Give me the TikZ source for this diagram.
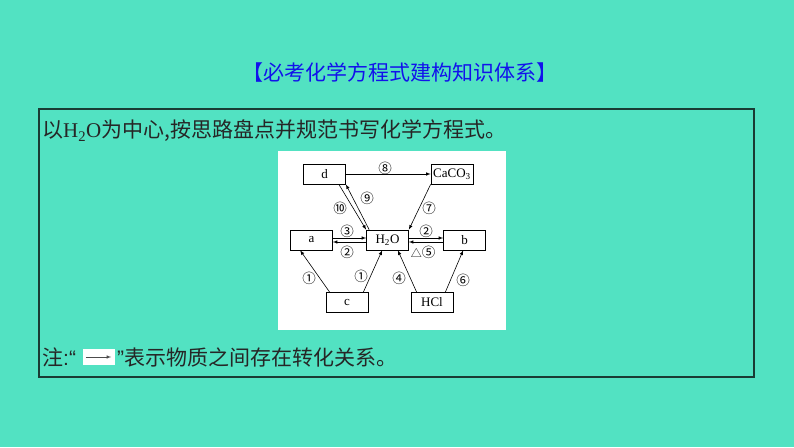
\documentclass[tikz,border=0pt]{standalone}
\usepackage{fontspec}
\setmainfont{Liberation Serif}
\newfontfamily\cjk{Noto Sans CJK SC}
\newfontfamily\latinsans{Liberation Sans}
\usetikzlibrary{arrows}
\definecolor{bgc}{RGB}{82,226,194}
\definecolor{framec}{RGB}{25,60,52}
\definecolor{titlec}{RGB}{18,18,235}
\tikzstyle{sbox} = [rectangle, minimum width=42pt, minimum height=20pt, inner sep=0pt, draw=black, line width=0.7pt, font=\fontsize{13}{13}\selectfont]
\tikzstyle{num} = [inner sep=0pt, font=\cjk\fontsize{13.5}{13.5}\selectfont]
\tikzstyle{cjktext} = [inner sep=0pt, anchor=west, text=black!85, font=\cjk\fontsize{21}{21}\selectfont]
\tikzstyle{conv} = [->, >=latex, line width=0.6pt]

\begin{document}
\begin{tikzpicture}[x=1pt, y=-1pt]
    \fill[bgc] (0,0) rectangle (794,447);
    \useasboundingbox (0,0) rectangle (794,447);
    \draw[framec, line width=1.2pt] (39,109) rectangle (754,377);
    \fill[white] (278,151) rectangle (506,330);

    \node at (400,72) [inner sep=0pt, text=titlec, font=\cjk\fontsize{21}{21}\selectfont] (title) {【必考化学方程式建构知识体系】};
    \node at (42,131) [cjktext] (line1) {以{\rmfamily H\textsubscript{2}O}为中心,按思路盘点并规范书写化学方程式。};

    % note line
    \node at (42,357) [cjktext] (note1) {注{\latinsans :“}};
    \node at (99,357) [rectangle, fill=white, minimum width=32pt, minimum height=16pt, inner sep=0pt] (legend) {};
    \node at (117,357) [cjktext] (note2) {{\latinsans ”}表示物质之间存在转化关系。};
    \draw[conv, black!70] ([xshift=3pt]legend.west) -- ([xshift=-4pt]legend.east);

    % substances
    \node at (324.5,174) [sbox] (boxd) {d};
    \node at (452,174) [sbox] (boxcaco) {CaCO\textsubscript{3}};
    \node at (311.5,240) [sbox] (boxa) {a};
    \node at (387.5,240) [sbox] (water) {H\textsubscript{2}O};
    \node at (464.5,240) [sbox] (boxb) {b};
    \node at (347,302.5) [sbox] (boxc) {c};
    \node at (432,302.5) [sbox] (hcl) {HCl};

    % conversions
    \draw[conv] (boxd) -- (boxcaco);
    \draw[conv] ([xshift=-7pt]boxd.south east) -- (water.north west);
    \draw[conv] ([xshift=3pt]water.north west) -- (boxd.south east);
    \draw[conv] (boxcaco.south west) -- (water.north east);
    \draw[conv] ([yshift=2pt]boxa.east) -- ([yshift=2pt]water.west);
    \draw[conv] ([yshift=-2pt]water.west) -- ([yshift=-2pt]boxa.east);
    \draw[conv] ([yshift=2pt]water.east) -- ([yshift=2pt]boxb.west);
    \draw[conv] ([yshift=-2pt]boxb.west) -- ([yshift=-2pt]water.east);
    \draw[conv] ([xshift=4pt]boxc.north west) -- ([xshift=10pt]boxa.south west);
    \draw[conv] ([xshift=-5pt]boxc.north east) -- ([xshift=16pt]water.south west);
    \draw[conv] ([xshift=6pt]hcl.north west) -- ([xshift=-11pt]water.south east);
    \draw[conv] ([xshift=-8pt]hcl.north east) -- ([xshift=20pt]boxb.south west);

    % labels
    \node at (385,168) [num] (lab8) {⑧};
    \node at (367,198) [num] (lab9) {⑨};
    \node at (340,208) [num] (lab10) {⑩};
    \node at (429,208) [num] (lab7) {⑦};
    \node at (347,231) [num] (lab3) {③};
    \node at (347,252) [num] (lab2a) {②};
    \node at (426,231) [num] (lab2b) {②};
    \node at (423,252) [num] (lab5) {{\fontsize{11}{11}\selectfont △}⑤};
    \node at (309,278) [num] (lab1a) {①};
    \node at (361,276) [num] (lab1b) {①};
    \node at (399,278) [num] (lab4) {④};
    \node at (463,280) [num] (lab6) {⑥};
\end{tikzpicture}
\end{document}
